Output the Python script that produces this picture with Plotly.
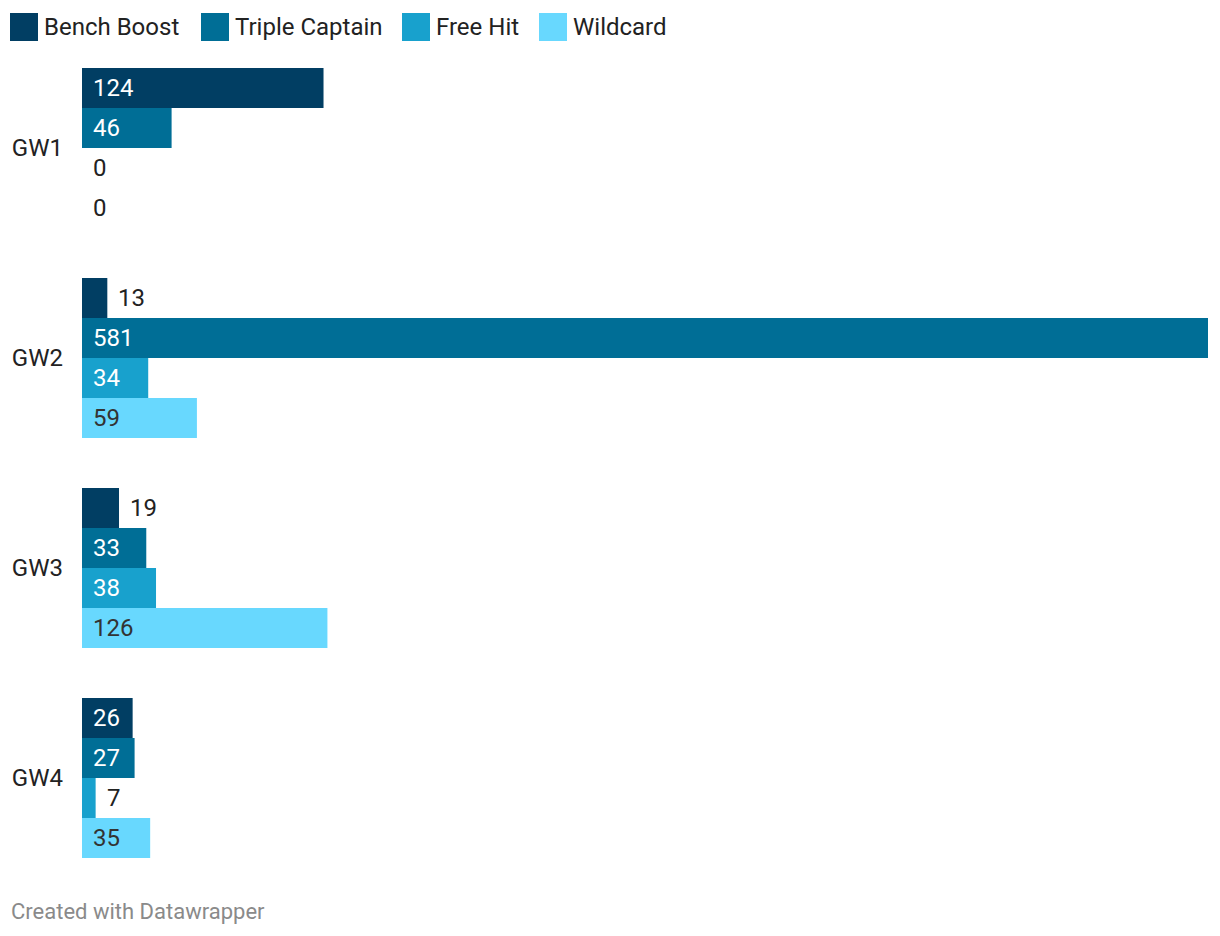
import plotly.graph_objects as go

gameweeks = ["GW1", "GW2", "GW3", "GW4"]
series_names = ["Bench Boost", "Triple Captain", "Free Hit", "Wildcard"]
bench_boost = [124, 13, 19, 26]
triple_captain = [46, 581, 33, 27]
free_hit = [0, 34, 38, 7]
wildcard = [0, 59, 126, 35]

series_values = [bench_boost, triple_captain, free_hit, wildcard]
colors = ["#013e63", "#006e96", "#18a1cd", "#68d8fe"]
inside_text_colors = ["#ffffff", "#ffffff", "#ffffff", "#333333"]

FONT = "Roboto"
TEXT = "#222222"
FS = 24

fig = go.Figure()
for name, vals, col in zip(series_names, series_values, colors):
    fig.add_trace(go.Bar(
        y=gameweeks, x=vals, name=name, orientation="h",
        marker=dict(color=col, line=dict(width=0)),
        showlegend=False, hoverinfo="skip",
    ))

xmax = max(max(v) for v in series_values)
annotations = []
n = len(series_values)
bar_px = 40
for k, (vals, tcol) in enumerate(zip(series_values, inside_text_colors)):
    yshift = (n - 1) / 2 * bar_px - k * bar_px
    for cat, v in zip(gameweeks, vals):
        inside = v >= 0.04 * xmax
        annotations.append(dict(
            x=0 if inside else v, y=cat, xref="x", yref="y",
            text=str(v), showarrow=False, xanchor="left", yanchor="middle",
            xshift=9, yshift=yshift,
            font=dict(family=FONT, size=FS, color=tcol if inside else TEXT),
        ))

# legend (manual, Datawrapper style)
legend_x = [10, 201, 402, 539]
plot_left, plot_top = 82, 43
shapes = []
for name, col, lx in zip(series_names, colors, legend_x):
    shapes.append(dict(
        type="rect", xref="paper", yref="paper", xsizemode="pixel", ysizemode="pixel",
        xanchor=0, yanchor=1, x0=lx - plot_left, x1=lx - plot_left + 28,
        y0=plot_top - 41, y1=plot_top - 13, fillcolor=col, line=dict(width=0),
    ))
    annotations.append(dict(
        x=0, y=1, xref="paper", yref="paper", text=name, showarrow=False,
        xanchor="left", yanchor="middle", xshift=lx + 32 - plot_left, yshift=plot_top - 27,
        font=dict(family=FONT, size=FS, color=TEXT),
    ))

annotations.append(dict(
    x=0, y=0, xref="paper", yref="paper", text="Created with Datawrapper", showarrow=False,
    xanchor="left", yanchor="middle", xshift=9 - plot_left, yshift=-28,
    font=dict(family=FONT, size=22, color="#8a8a8a"),
))

fig.update_layout(
    width=1220, height=936,
    margin=dict(l=plot_left, r=12, t=plot_top, b=53),
    barmode="group", bargap=50 / 210, bargroupgap=0,
    plot_bgcolor="white", paper_bgcolor="white",
    font=dict(family=FONT, size=FS, color=TEXT),
    xaxis=dict(range=[0, xmax * 0.995], visible=False, showgrid=False, zeroline=False,
               fixedrange=True, automargin=False),
    yaxis=dict(autorange="reversed", showgrid=False, zeroline=False, showline=False, automargin=False,
               ticks="", ticklabelstandoff=18, tickfont=dict(family=FONT, size=FS, color=TEXT)),
    annotations=annotations, shapes=shapes,
)

fig.write_html("out.html")
